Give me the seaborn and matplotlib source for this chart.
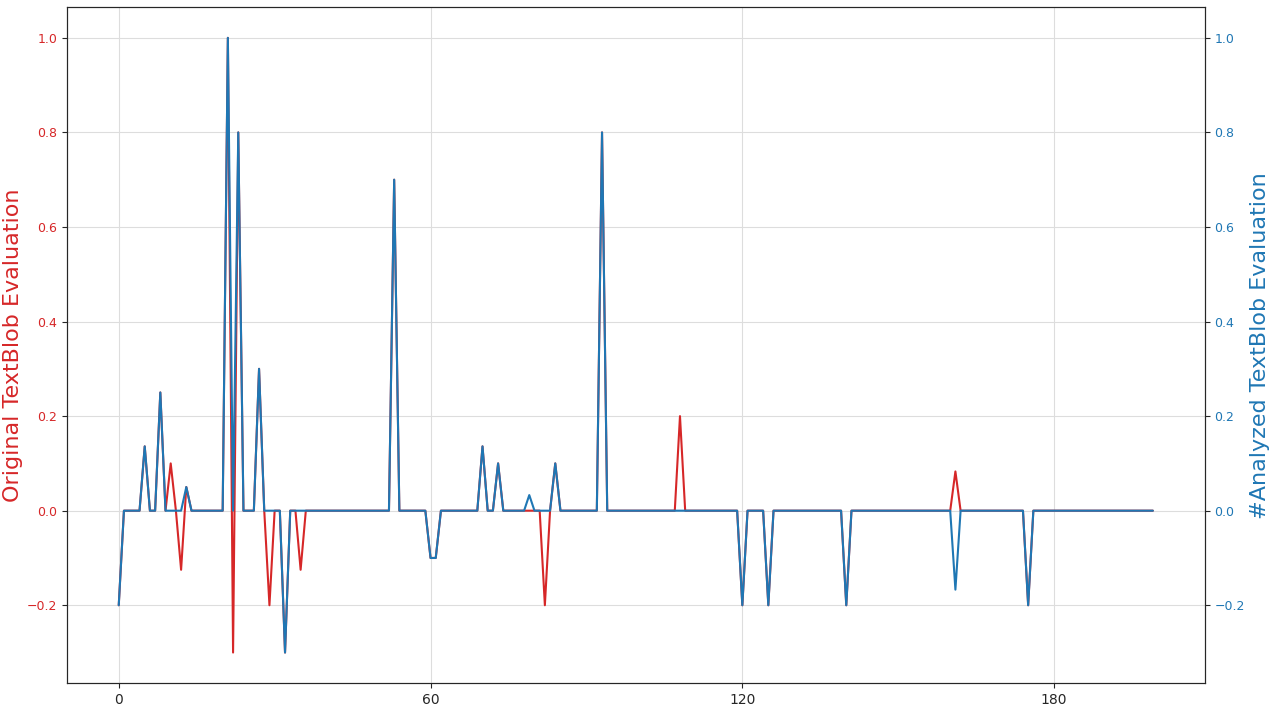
import numpy as np
import pandas as pd
import seaborn as sns
import matplotlib
matplotlib.use("Agg")
import matplotlib.pyplot as plt
from matplotlib.ticker import MultipleLocator

# polarity scores per message
original_scores = [
    -0.2, 0, 0, 0, 0, 0.136, 0, 0, 0.25, 0, 0.1, 0, -0.125, 0.05, 0, 0, 0, 0, 0, 0,
    0, 1.0, -0.3, 0.8, 0, 0, 0, 0.3, 0, -0.2, 0, 0, -0.3, 0, 0, -0.125, 0, 0, 0, 0,
    0, 0, 0, 0, 0, 0, 0, 0, 0, 0, 0, 0, 0, 0.7, 0, 0, 0, 0, 0, 0,
    -0.1, -0.1, 0, 0, 0, 0, 0, 0, 0, 0, 0.136, 0, 0, 0.1, 0, 0, 0, 0, 0, 0,
    0, 0, -0.2, 0, 0.1, 0, 0, 0, 0, 0, 0, 0, 0, 0.8, 0, 0, 0, 0, 0, 0,
    0, 0, 0, 0, 0, 0, 0, 0, 0.2, 0, 0, 0, 0, 0, 0, 0, 0, 0, 0, 0,
    -0.2, 0, 0, 0, 0, -0.2, 0, 0, 0, 0, 0, 0, 0, 0, 0, 0, 0, 0, 0, 0,
    -0.2, 0, 0, 0, 0, 0, 0, 0, 0, 0, 0, 0, 0, 0, 0, 0, 0, 0, 0, 0,
    0, 0.083, 0, 0, 0, 0, 0, 0, 0, 0, 0, 0, 0, 0, 0, -0.2, 0, 0, 0, 0,
    0, 0, 0, 0, 0, 0, 0, 0, 0, 0, 0, 0, 0, 0, 0, 0, 0, 0, 0, 0,
]

analyzed_scores = [
    -0.2, 0, 0, 0, 0, 0.136, 0, 0, 0.25, 0, 0, 0, 0, 0.05, 0, 0, 0, 0, 0, 0,
    0, 1.0, 0, 0.8, 0, 0, 0, 0.3, 0, 0, 0, 0, -0.3, 0, 0, 0, 0, 0, 0, 0,
    0, 0, 0, 0, 0, 0, 0, 0, 0, 0, 0, 0, 0, 0.7, 0, 0, 0, 0, 0, 0,
    -0.1, -0.1, 0, 0, 0, 0, 0, 0, 0, 0, 0.136, 0, 0, 0.1, 0, 0, 0, 0, 0, 0.033,
    0, 0, 0, 0, 0.1, 0, 0, 0, 0, 0, 0, 0, 0, 0.8, 0, 0, 0, 0, 0, 0,
    0, 0, 0, 0, 0, 0, 0, 0, 0, 0, 0, 0, 0, 0, 0, 0, 0, 0, 0, 0,
    -0.2, 0, 0, 0, 0, -0.2, 0, 0, 0, 0, 0, 0, 0, 0, 0, 0, 0, 0, 0, 0,
    -0.2, 0, 0, 0, 0, 0, 0, 0, 0, 0, 0, 0, 0, 0, 0, 0, 0, 0, 0, 0,
    0, -0.167, 0, 0, 0, 0, 0, 0, 0, 0, 0, 0, 0, 0, 0, -0.2, 0, 0, 0, 0,
    0, 0, 0, 0, 0, 0, 0, 0, 0, 0, 0, 0, 0, 0, 0, 0, 0, 0, 0, 0,
]

df = pd.DataFrame({
    "idx": np.arange(len(original_scores)),
    "original": original_scores,
    "analyzed": analyzed_scores,
})

sns.set_style("ticks")
plt.rcParams["font.family"] = ["DejaVu Sans"]

fig, ax = plt.subplots(figsize=(12.72, 7.11), dpi=100)
fig.subplots_adjust(left=0.0527, right=0.947, top=0.990, bottom=0.039)

sns.lineplot(data=df, x="idx", y="original", ax=ax, color="tab:red", linewidth=1.5)
ax.set_ylabel("Original TextBlob Evaluation", color="tab:red", fontsize=16, labelpad=3)
ax.set_xlabel("")
ax.tick_params(axis="y", labelcolor="tab:red", labelsize=9)
ax.tick_params(axis="x", labelsize=10)
ax.xaxis.set_major_locator(MultipleLocator(60))
ax.grid(True, color="#dddddd", linewidth=0.8)

ax2 = ax.twinx()
sns.lineplot(data=df, x="idx", y="analyzed", ax=ax2, color="tab:blue", linewidth=1.5)
ax2.set_ylabel("#Analyzed TextBlob Evaluation", color="tab:blue", fontsize=16, labelpad=4)
ax2.tick_params(axis="y", labelcolor="tab:blue", labelsize=9)
ax2.set_ylim(ax.get_ylim())

plt.savefig("out.png", dpi=100)
